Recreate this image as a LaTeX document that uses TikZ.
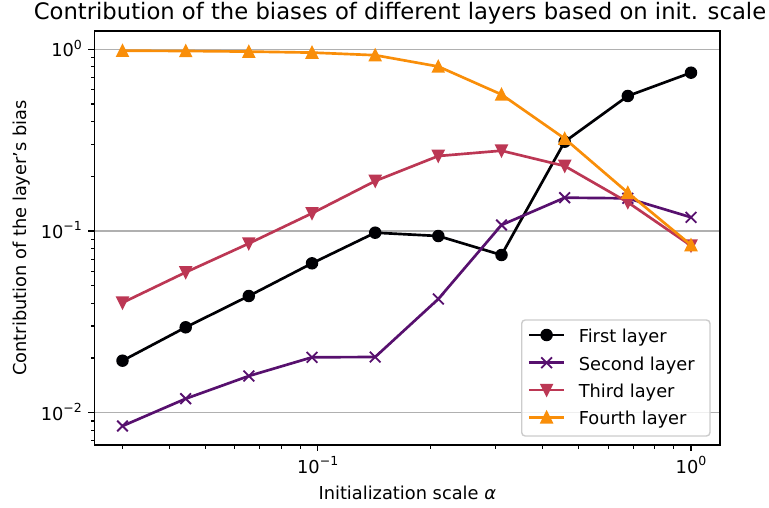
\documentclass[tikz,border=0pt]{standalone}
\usepackage{fontspec}
\setmainfont{DejaVu Sans}

% series colours (inferno samples)
\definecolor{serA}{HTML}{000004}
\definecolor{serB}{HTML}{57106E}
\definecolor{serC}{HTML}{BC3754}
\definecolor{serD}{HTML}{F98E09}
\definecolor{gridc}{HTML}{B0B0B0}
\definecolor{legedge}{HTML}{CCCCCC}

% power-of-ten tick label
\newcommand{\tenpow}[1]{10\raisebox{0.42em}{\fontsize{12.5}{12.5}\selectfont #1}}

\tikzset{
  series/.style={line width=2.67pt, line join=round, line cap=round},
  gridline/.style={gridc, line width=1.4pt},
  majortick/.style={line width=1.4pt},
  minortick/.style={line width=1.07pt},
  ticklabel/.style={font=\fontsize{17.8}{20}\selectfont, inner sep=0pt},
}

\begin{document}
\begin{tikzpicture}[x=1pt, y=-1pt, font=\fontsize{17.8}{20}\selectfont]
\useasboundingbox (0,0) rectangle (769,508);
\clip (0,0) rectangle (769,508);

% horizontal grid at the decades
\foreach \gy in {49.3,231.0,412.7}
  \draw[gridline] (94.5,\gy) -- (720,\gy);

% data: x positions are log-spaced from 0.03 to 1
\foreach \x/\y [count=\i] in {122.5/360.7,185.7/327.3,248.8/296.0,312.0/263.3,375.2/232.7,438.3/236.0,501.5/255.0,564.7/141.7,627.8/96.0,691.0/72.7}
  \coordinate (A\i) at (\x,\y);
\foreach \x/\y [count=\i] in {122.5/426.0,185.7/398.7,248.8/376.0,312.0/357.3,375.2/357.0,438.3/299.0,501.5/225.0,564.7/197.7,627.8/198.3,691.0/217.3}
  \coordinate (B\i) at (\x,\y);
\foreach \x/\y [count=\i] in {122.5/302.7,185.7/272.3,248.8/243.5,312.0/213.3,375.2/181.0,438.3/156.0,501.5/150.7,564.7/166.0,627.8/202.3,691.0/245.7}
  \coordinate (C\i) at (\x,\y);
\foreach \x/\y [count=\i] in {122.5/50.7,185.7/51.0,248.8/51.6,312.0/52.6,375.2/55.2,438.3/66.5,501.5/94.5,564.7/138.6,627.8/192.7,691.0/245.0}
  \coordinate (D\i) at (\x,\y);

% first layer
\draw[series, serA] (A1) \foreach \i in {2,...,10}{ -- (A\i)};
\foreach \i in {1,...,10}
  \fill[serA] (A\i) circle (6.25pt);
% second layer
\draw[series, serB] (B1) \foreach \i in {2,...,10}{ -- (B\i)};
\foreach \i in {1,...,10}
  \draw[serB, line width=1.8pt] ([shift={(-5.35,-5.35)}]B\i) -- ([shift={(5.35,5.35)}]B\i)
                                 ([shift={(-5.35,5.35)}]B\i) -- ([shift={(5.35,-5.35)}]B\i);
% third layer
\draw[series, serC] (C1) \foreach \i in {2,...,10}{ -- (C\i)};
\foreach \i in {1,...,10}
  \filldraw[serC, line width=1.8pt, line join=miter]
    ([shift={(0,5.35)}]C\i) -- ([shift={(-5.35,-5.35)}]C\i) -- ([shift={(5.35,-5.35)}]C\i) -- cycle;
% fourth layer
\draw[series, serD] (D1) \foreach \i in {2,...,10}{ -- (D\i)};
\foreach \i in {1,...,10}
  \filldraw[serD, line width=1.8pt, line join=miter]
    ([shift={(0,-5.35)}]D\i) -- ([shift={(-5.35,5.35)}]D\i) -- ([shift={(5.35,5.35)}]D\i) -- cycle;

% legend
\draw[legedge, line width=1.4pt, fill=white, fill opacity=0.8, rounded corners=3.5pt]
  (521.7,320) rectangle (710,436);
\coordinate (L1) at (546.6,335.0);
\coordinate (L2) at (546.6,362.7);
\coordinate (L3) at (546.6,390.0);
\coordinate (L4) at (546.6,417.3);
\draw[series, line cap=butt, serA] ([xshift=-17.8]L1) -- ([xshift=17.8]L1);
\fill[serA] (L1) circle (6.25pt);
\draw[series, line cap=butt, serB] ([xshift=-17.8]L2) -- ([xshift=17.8]L2);
\draw[serB, line width=1.8pt] ([shift={(-5.35,-5.35)}]L2) -- ([shift={(5.35,5.35)}]L2)
                               ([shift={(-5.35,5.35)}]L2) -- ([shift={(5.35,-5.35)}]L2);
\draw[series, line cap=butt, serC] ([xshift=-17.8]L3) -- ([xshift=17.8]L3);
\filldraw[serC, line width=1.8pt, line join=miter]
  ([shift={(0,5.35)}]L3) -- ([shift={(-5.35,-5.35)}]L3) -- ([shift={(5.35,-5.35)}]L3) -- cycle;
\draw[series, line cap=butt, serD] ([xshift=-17.8]L4) -- ([xshift=17.8]L4);
\filldraw[serD, line width=1.8pt, line join=miter]
  ([shift={(0,-5.35)}]L4) -- ([shift={(-5.35,5.35)}]L4) -- ([shift={(5.35,5.35)}]L4) -- cycle;
\node[ticklabel, anchor=base west] (t1) at (578.6,342.3) {First layer};
\node[ticklabel, anchor=base west] (t2) at (578.6,370.0) {Second layer};
\node[ticklabel, anchor=base west] (t3) at (578.6,397.3) {Third layer};
\node[ticklabel, anchor=base west] (t4) at (578.6,424.6) {Fourth layer};

% axes frame
\draw[line width=1.4pt] (94.5,31) rectangle (720,445);

% y ticks
\foreach \gy in {49.3,231.0,412.7}
  \draw[majortick] (94.5,\gy) -- (88.3,\gy);
\foreach \d in {-2,-1}
  \foreach \k in {2,...,9}{
    \pgfmathsetmacro{\ty}{49.3-181.7*(\d+log10(\k))}
    \draw[minortick] (94.5,\ty) -- (90.9,\ty);}
\foreach \k in {7,8,9}{
    \pgfmathsetmacro{\ty}{49.3-181.7*(-3+log10(\k))}
    \draw[minortick] (94.5,\ty) -- (90.9,\ty);}
\node[ticklabel, anchor=base east] (y0) at (82.1,56.6) {\tenpow{0}};
\node[ticklabel, anchor=base east] (y1) at (82.1,238.3) {\tenpow{−1}};
\node[ticklabel, anchor=base east] (y2) at (82.1,420.0) {\tenpow{−2}};

% x ticks
\foreach \gx in {317.7,691.0}
  \draw[majortick] (\gx,445) -- (\gx,451.2);
\foreach \k in {3,...,9}{
    \pgfmathsetmacro{\tx}{691+373.3*(-2+log10(\k))}
    \draw[minortick] (\tx,445) -- (\tx,448.6);}
\foreach \k in {2,...,9}{
    \pgfmathsetmacro{\tx}{691+373.3*(-1+log10(\k))}
    \draw[minortick] (\tx,445) -- (\tx,448.6);}
\node[ticklabel, anchor=base] (x1) at (317.7,473.0) {\tenpow{−1}};
\node[ticklabel, anchor=base] (x0) at (691.0,473.0) {\tenpow{0}};

% axis labels and title
\node[ticklabel, anchor=base] (xl) at (407.25,499) {Initialization scale \textit{α}};
\node[ticklabel, anchor=base, rotate=90] (yl) at (26,238) {Contribution of the layer{\char39}s bias};
\node[inner sep=0pt, anchor=base, font=\fontsize{22.7}{26}\selectfont] (ttl) at (400,19.5)
  {Contribution of the biases of different layers based on init. scale};
\end{tikzpicture}
\end{document}
